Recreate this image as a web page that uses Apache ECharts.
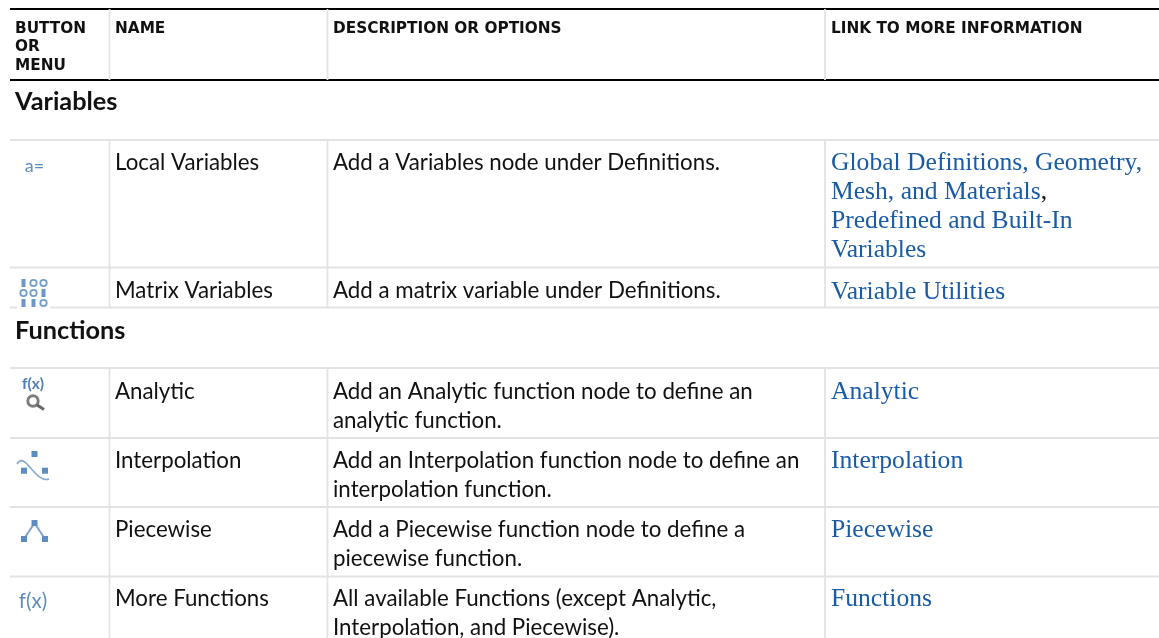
<!DOCTYPE html>
<html><head><meta charset="utf-8">
<style>html,body{margin:0;padding:0;background:#fff}#c{width:1159px;height:638px}</style>
<script src="https://cdn.jsdelivr.net/npm/echarts@6/dist/echarts.min.js"></script>
</head><body><div id="c"></div>
<script>
const headers = [["BUTTON","OR","MENU"],["NAME"],["DESCRIPTION OR OPTIONS"],["LINK TO MORE INFORMATION"]];
const sections = ["Variables","Functions"];
const names = ["Local Variables","Matrix Variables","Analytic","Interpolation","Piecewise","More Functions"];
const descriptions = [
  ["Add a Variables node under Definitions."],
  ["Add a matrix variable under Definitions."],
  ["Add an Analytic function node to define an","analytic function."],
  ["Add an Interpolation function node to define an","interpolation function."],
  ["Add a Piecewise function node to define a","piecewise function."],
  ["All available Functions (except Analytic,","Interpolation, and Piecewise)."]
];
const links = [
  ["Global Definitions, Geometry,","{l|Mesh, and Materials}{k|,}","Predefined and Built-In","Variables"],
  ["Variable Utilities"],["Analytic"],["Interpolation"],["Piecewise"],["Functions"]
];
const icons = ["a=","matrix","fx-search","interp","piecewise","f(x)"];

// layout (pixels on the page-sized scales)
const colText = [15,115,333,831];
const colRule = [109.5,327.5,825];
const headY = [29,47.5,66];
const sectionY = [102,331];
const rowY = [163,291,392,461,530,599];
const linkY = [163.5,292,392.5,461.5,530.5,599.5];
const bodyLine = 29;
const hRules = [[140,'g'],[267.5,'g'],[307.5,'g'],[368,'g'],[438,'g'],[507,'g'],[576.5,'g'],[9,'k'],[80,'k']];
const vSpans = [[9,80],[140,307.5],[368,638]];

const HEAD = 'bold 15.3px "DejaVu Sans"';
const SEC = 'bold 25.3px Lato';
const BODY = '22.3px Lato';
const LINK = '25.6px "Liberation Serif"';
const INK='#111', LINKC='#1a5ba6', ICON='#5d8cc0', RULE='#e3e3e3';

const textItems=[];
headers.forEach((ls,c)=>ls.forEach((t,i)=>textItems.push([colText[c],headY[i],t,HEAD,INK])));
sections.forEach((t,i)=>textItems.push([colText[0],sectionY[i],t,SEC,INK]));
names.forEach((t,i)=>textItems.push([colText[1],rowY[i],t,BODY,INK]));
descriptions.forEach((ls,r)=>ls.forEach((t,i)=>textItems.push([colText[2],rowY[r]+i*bodyLine,t,BODY,INK])));
links.forEach((ls,r)=>ls.forEach((t,i)=>textItems.push([colText[3],linkY[r]+i*bodyLine,t,LINK,LINKC])));

const ruleItems=[];
hRules.forEach(([y,k])=>ruleItems.push([10,y,1159,y,k]));
colRule.forEach(x=>vSpans.forEach(([a,b])=>ruleItems.push([x,a,x,b,'g'])));

function sq(x,y,s){return {type:'rect',shape:{x:x-s/2,y:y-s/2,width:s,height:s},style:{fill:ICON}};}
function ln(pts,w){return {type:'polyline',shape:{points:pts},style:{fill:null,stroke:ICON,lineWidth:w||1.3,opacity:.8}};}
function tx(x,y,t,f,c){return {type:'text',x:x,y:y,style:{text:t,font:f,fill:c||ICON,textAlign:'center',textVerticalAlign:'middle'}};}
function ring(x,y,r,w,c){return {type:'circle',shape:{cx:x,cy:y,r:r},style:{fill:null,stroke:c||ICON,lineWidth:w||1.8,opacity:.85}};}
function iconShapes(kind,cx,cy){
  if(kind==='a=') return [tx(cx,cy,'a=','18px Lato')];
  if(kind==='f(x)') return [tx(cx,cy,'f(x)','20.5px Lato')];
  if(kind==='matrix'){
    const g=[{type:'rect',shape:{x:cx-16,y:cy-15,width:33,height:33},style:{fill:'#fff'}}];
    const xs=[-10,0,10].map(v=>v+cx),ys=[-10,0,10].map(v=>v+cy);
    const row=[[1,0,0],[0,0,1],[1,1,0]];
    row.forEach((r,j)=>r.forEach((b,i)=>{
      g.push(b?{type:'rect',shape:{x:xs[i]-2,y:ys[j]-4,width:4,height:8},style:{fill:ICON,opacity:.9}}:ring(xs[i],ys[j],3.2));
    }));
    return g;
  }
  if(kind==='fx-search') return [tx(cx,cy-8,'f(x)','bold 15.5px Lato','#4f7fb5'),ring(cx,cy+9,5.2,3,'#666'),
    {type:'line',shape:{x1:cx+4,y1:cy+13,x2:cx+11,y2:cy+17.5},style:{stroke:'#666',lineWidth:3}}];
  if(kind==='interp') return [
    {type:'bezierCurve',shape:{x1:17,y1:cy-2,x2:49,y2:cy+13,cpx1:25,cpy1:cy-16,cpx2:35,cpy2:cy+18},style:{fill:null,stroke:ICON,lineWidth:1.6,opacity:.75}},
    sq(34.5,cy-12,6),sq(24,cy+4.7,6),sq(45,cy+4.7,6)];
  return [ln([[24,cy+8],[34.5,cy-8],[45,cy+8]],2),sq(34.5,cy-8,6),sq(24,cy+8,6),sq(45,cy+8,6)];
}
const iconCx=[34.5,33.5,33,33,33,33], iconCy=[166,293,392,466,531,601];

const chart=echarts.init(document.getElementById('c'),null,{renderer:'canvas'});
chart.setOption({
  animation:false,
  backgroundColor:'#fff',
  grid:{left:0,right:0,top:0,bottom:0},
  xAxis:{type:'value',min:0,max:1159,show:false},
  yAxis:{type:'value',min:0,max:638,inverse:true,show:false},
  series:[
    {type:'custom',coordinateSystem:'cartesian2d',silent:true,clip:false,z:1,
     data:ruleItems,encode:{x:[0,2],y:[1,3]},
     renderItem(p,api){
       const a=api.coord([api.value(0),api.value(1)]),b=api.coord([api.value(2),api.value(3)]);
       const k=ruleItems[p.dataIndex][4];
       return {type:'line',shape:{x1:a[0],y1:a[1],x2:b[0],y2:b[1]},style:{stroke:k==='k'?'#000':RULE,lineWidth:k==='k'?2:1.8}};
     }},
    {type:'custom',coordinateSystem:'cartesian2d',silent:true,clip:false,z:3,
     data:iconCx.map((x,i)=>[x,iconCy[i]]),encode:{x:0,y:1},
     renderItem(p,api){
       const c=api.coord([api.value(0),api.value(1)]);
       return {type:'group',children:iconShapes(icons[p.dataIndex],c[0],c[1])};
     }},
    {type:'custom',coordinateSystem:'cartesian2d',silent:true,clip:false,z:4,
     data:textItems.map(t=>[t[0],t[1]]),encode:{x:0,y:1},
     renderItem(p,api){
       const c=api.coord([api.value(0),api.value(1)]),t=textItems[p.dataIndex];
       const style={text:t[2],font:t[3],fill:t[4],textAlign:'left',textVerticalAlign:'middle'};
       if(t[2].charAt(0)==='{') style.rich={
         l:{font:LINK,fill:LINKC},
         k:{font:LINK,fill:'#111'}
       };
       return {type:'text',x:c[0],y:c[1],style};
     }}
  ]
});
</script></body></html>
